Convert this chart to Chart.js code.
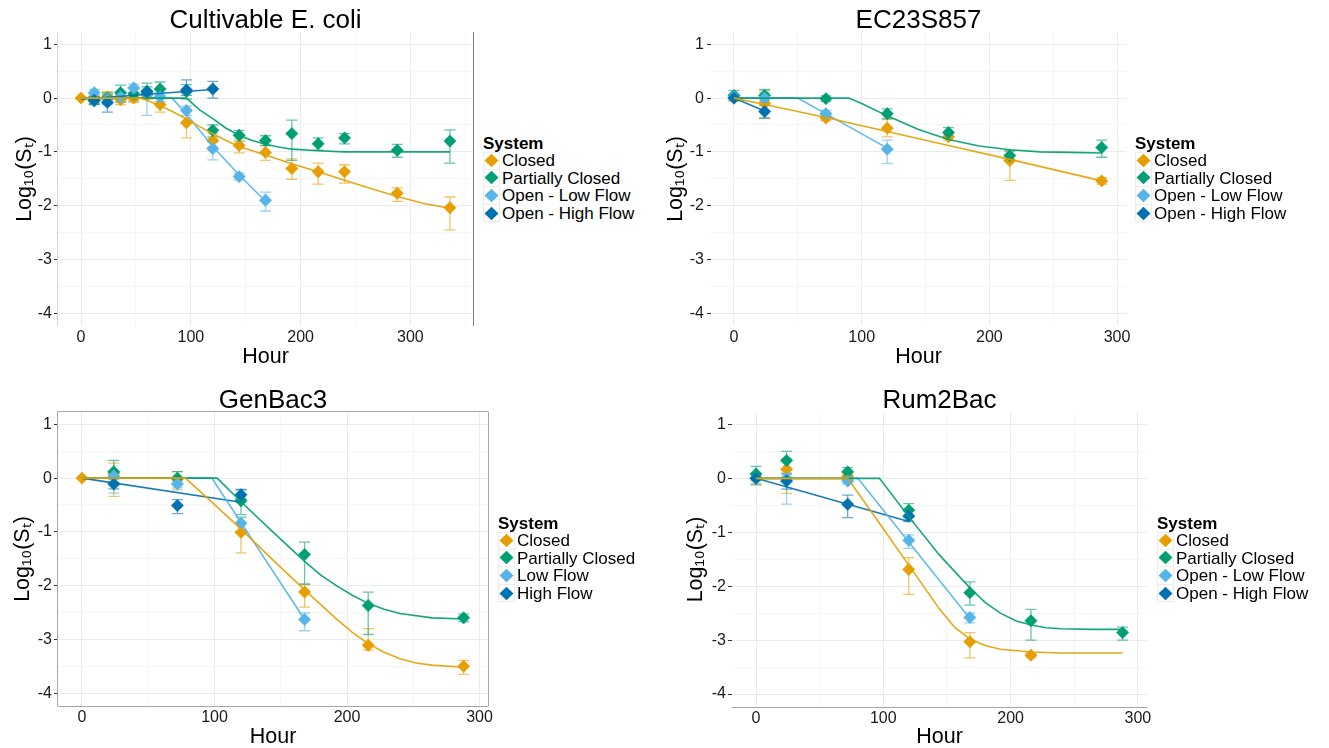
<!DOCTYPE html>
<html>
<head>
<meta charset="utf-8">
<script src="https://cdn.jsdelivr.net/npm/chart.js@4.4.1/dist/chart.umd.min.js"></script>
<style>
html,body{margin:0;padding:0;background:#fff;}
body{width:1329px;height:748px;position:relative;overflow:hidden;font-family:"Liberation Sans",Arial,Helvetica,sans-serif;}
canvas{position:absolute;}
.legend{position:absolute;color:#000;font-size:17px;}
.legend .ttl{font-weight:bold;height:16px;line-height:16px;white-space:nowrap;}
.legend .row{height:17.6px;line-height:17.6px;display:flex;align-items:center;white-space:nowrap;}
.legend .key{width:17px;height:17.6px;box-sizing:border-box;border:1px solid #ECECEC;margin-right:2px;display:flex;align-items:center;justify-content:center;}
</style>
</head>
<body>
<script>
// ---------------- data ----------------
const panelTitles = ['Cultivable E. coli', 'EC23S857', 'GenBac3', 'Rum2Bac'];
const seriesNames = ['Closed', 'Partially Closed', 'Open - Low Flow', 'Open - High Flow'];
const genbacSeriesNames = ['Closed', 'Partially Closed', 'Low Flow', 'High Flow'];
const seriesColors = ['#E69F00', '#009E73', '#56B4E9', '#0072B2'];
const legendTitle = 'System';
const xAxisTitle = 'Hour';
const yAxisTitle = 'Log\u2081\u2080(S\u209C)';
const yTickValues = [-4, -3, -2, -1, 0, 1];
const yMinorTickValues = [-3.5, -2.5, -1.5, -0.5, 0.5];
const xTickValues = [0, 100, 200, 300];
const xMinorTickValues = [50, 150, 250, 350];

// observed points: [hour, log10 survival, error-bar low, error-bar high]
const ecoliClosed = [[0,0,0,0],[12,-0.02,-0.1,0.06],[24,0.02,-0.08,0.12],[36,-0.03,-0.12,0.06],[48,0.0,-0.08,0.08],[60,0.05,-0.02,0.12],[72,-0.12,-0.26,0.02],[96,-0.46,-0.74,-0.23],[120,-0.79,-0.91,-0.66],[144,-0.88,-1.02,-0.76],[168,-1.01,-1.16,-0.89],[192,-1.31,-1.51,-1.13],[216,-1.37,-1.6,-1.21],[240,-1.37,-1.58,-1.24],[288,-1.77,-1.92,-1.67],[336,-2.04,-2.45,-1.84]];
const ecoliPartial = [[12,-0.05,-0.12,0.03],[24,0.0,-0.1,0.1],[36,0.1,-0.08,0.24],[48,0.08,-0.05,0.2],[60,0.13,0.0,0.28],[72,0.17,0.05,0.3],[96,0.12,-0.02,0.25],[120,-0.6,-0.72,-0.5],[144,-0.69,-0.8,-0.6],[168,-0.79,-0.88,-0.7],[192,-0.66,-1.16,-0.41],[216,-0.85,-0.97,-0.74],[240,-0.74,-0.85,-0.66],[288,-0.97,-1.1,-0.86],[336,-0.8,-1.21,-0.59]];
const ecoliLow = [[12,0.1,0.03,0.16],[24,-0.02,-0.12,0.08],[36,0.02,-0.08,0.12],[48,0.19,0.1,0.26],[60,0.08,-0.32,0.14],[72,0.02,-0.06,0.1],[96,-0.23,-0.32,-0.15],[120,-0.94,-1.15,-0.82],[144,-1.46,-1.52,-1.4],[168,-1.9,-2.1,-1.75]];
const ecoliHigh = [[12,-0.04,-0.11,0.03],[24,-0.08,-0.26,0.06],[60,0.11,0.01,0.21],[96,0.15,0.05,0.34],[120,0.17,0.0,0.31]];

const ec23Closed = [[0,0,-0.05,0.05],[24,-0.1,-0.38,0.14],[72,-0.37,-0.42,-0.31],[120,-0.56,-0.72,-0.4],[168,-0.72,-0.78,-0.66],[216,-1.16,-1.53,-0.98],[288,-1.54,-1.6,-1.48]];
const ec23Partial = [[0,0.05,-0.05,0.14],[24,0.05,-0.05,0.16],[72,-0.01,-0.06,0.04],[120,-0.29,-0.38,-0.2],[168,-0.64,-0.72,-0.55],[216,-1.07,-1.16,-0.98],[288,-0.92,-1.1,-0.78]];
const ec23Low = [[0,0.02,-0.03,0.07],[24,0.0,-0.1,0.1],[72,-0.29,-0.35,-0.23],[120,-0.95,-1.22,-0.78]];
const ec23High = [[0,0,0,0],[24,-0.25,-0.37,-0.13]];

const genbacClosed = [[0,0,0,0],[24,0.09,-0.34,0.28],[72,-0.02,-0.22,0.12],[120,-1.01,-1.39,-0.74],[168,-2.12,-2.4,-1.98],[216,-3.11,-3.2,-2.8],[288,-3.5,-3.65,-3.39]];
const genbacPartial = [[24,0.12,-0.08,0.33],[72,0.0,-0.1,0.12],[120,-0.42,-0.68,-0.22],[168,-1.42,-1.97,-1.19],[216,-2.37,-2.91,-2.12],[288,-2.6,-2.67,-2.53]];
const genbacLow = [[24,0.04,-0.28,0.12],[72,-0.11,-0.18,-0.05],[120,-0.84,-0.98,-0.72],[168,-2.63,-2.84,-2.51]];
const genbacHigh = [[24,-0.11,-0.2,-0.02],[72,-0.51,-0.66,-0.4],[120,-0.31,-0.38,-0.21]];

const rumClosed = [[0,0,-0.1,0.1],[24,0.17,-0.28,0.37],[72,0.04,-0.02,0.1],[120,-1.69,-2.15,-1.47],[168,-3.03,-3.33,-2.86],[216,-3.28,-3.32,-3.24]];
const rumPartial = [[0,0.08,-0.12,0.22],[24,0.33,0.15,0.5],[72,0.12,0.05,0.2],[120,-0.59,-0.72,-0.47],[168,-2.12,-2.35,-1.92],[216,-2.64,-3.0,-2.43],[288,-2.86,-3.0,-2.76]];
const rumLow = [[0,0,-0.05,0.05],[24,0.0,-0.48,0.1],[72,-0.05,-0.1,0.02],[120,-1.15,-1.3,-1.05],[168,-2.58,-2.68,-2.5]];
const rumHigh = [[0,0,0,0],[24,-0.05,-0.2,0.08],[72,-0.48,-0.73,-0.31],[120,-0.7,-0.8,-0.6]];

// fitted model curves: [hour, log10 survival]
const ecoliClosedFit = [[0,0],[54,0],[60,-0.04],[72,-0.14],[84,-0.26],[96,-0.39],[108,-0.53],[120,-0.66],[132,-0.79],[144,-0.9],[156,-0.98],[168,-1.06],[192,-1.22],[216,-1.37],[240,-1.53],[264,-1.68],[288,-1.83],[312,-1.96],[336,-2.05]];
const ecoliPartialFit = [[0,0],[96,0],[108,-0.22],[120,-0.38],[132,-0.56],[144,-0.69],[156,-0.79],[168,-0.86],[180,-0.91],[192,-0.95],[216,-0.98],[240,-1.0],[336,-1.0]];
const ecoliLowFit = [[0,0],[83,0],[96,-0.3],[120,-0.9],[144,-1.43],[168,-1.92]];
const ecoliHighFit = [[0,-0.02],[120,0.16]];

const ec23ClosedFit = [[0,0],[24,-0.12],[72,-0.36],[120,-0.62],[168,-0.88],[216,-1.14],[288,-1.54]];
const ec23PartialFit = [[0,0],[90,0],[100,-0.1],[120,-0.33],[144,-0.58],[168,-0.77],[192,-0.89],[216,-0.96],[240,-1.0],[264,-1.01],[288,-1.02]];
const ec23LowFit = [[0,0],[50,0],[120,-0.93]];
const ec23HighFit = [[0,0],[24,-0.24]];

const genbacClosedFit = [[0,0],[78,0],[96,-0.4],[120,-0.95],[144,-1.52],[168,-2.08],[192,-2.62],[204,-2.87],[216,-3.08],[228,-3.24],[240,-3.36],[252,-3.44],[264,-3.48],[288,-3.52]];
const genbacPartialFit = [[0,0],[102,0],[120,-0.44],[144,-1.0],[168,-1.55],[180,-1.8],[192,-2.0],[204,-2.18],[216,-2.33],[228,-2.44],[240,-2.52],[264,-2.6],[288,-2.62]];
const genbacLowFit = [[0,0],[98,0],[168,-2.63]];
const genbacHighFit = [[0,0],[120,-0.45]];

const rumClosedFit = [[0,0],[72,0],[96,-0.8],[120,-1.61],[144,-2.42],[156,-2.76],[168,-2.98],[180,-3.1],[192,-3.17],[216,-3.22],[240,-3.24],[288,-3.24]];
const rumPartialFit = [[0,0],[97,0],[120,-0.71],[144,-1.42],[168,-2.03],[180,-2.3],[192,-2.5],[204,-2.64],[216,-2.72],[228,-2.77],[240,-2.79],[264,-2.8],[288,-2.8]];
const rumLowFit = [[0,0],[80,0],[168,-2.6]];
const rumHighFit = [[0,0],[120,-0.8]];

// ---------------- layout / style ----------------
const FONT = '"Liberation Sans", Arial, Helvetica, sans-serif';
const panels = [
  {points:[ecoliClosed,ecoliPartial,ecoliLow,ecoliHigh], fits:[ecoliClosedFit,ecoliPartialFit,ecoliLowFit,ecoliHighFit], names:seriesNames,
   box:{left:0,top:0,w:480,h:370}, yWidth:58, padRight:7, titlePadTop:7.5, titlePadBottom:-1.5, xHeight:44, xMin:-21, xMax:357, yTitlePad:14.5, xTitlePad:2.5, yTickPad:2,
   frame:[['left','#D4D4D4'],['right','#7F7F7F']], legend:{left:483,top:136}},
  {points:[ec23Closed,ec23Partial,ec23Low,ec23High], fits:[ec23ClosedFit,ec23PartialFit,ec23LowFit,ec23HighFit], names:seriesNames,
   box:{left:660,top:0,w:480,h:370}, yWidth:51, padRight:14, titlePadTop:7.5, titlePadBottom:-1.5, xHeight:44, xMin:-18, xMax:307, yTitlePad:5.5, xTitlePad:2.5, yTickPad:3,
   frame:[], legend:{left:1135,top:136}},
  {points:[genbacClosed,genbacPartial,genbacLow,genbacHigh], fits:[genbacClosedFit,genbacPartialFit,genbacLowFit,genbacHighFit], names:genbacSeriesNames,
   box:{left:0,top:370,w:500,h:378}, yWidth:58, padRight:12, titlePadTop:17.5, titlePadBottom:-1.5, xHeight:42, xMin:-18.1, xMax:306.4, yTitlePad:12.5, xTitlePad:0.5, yTickPad:2,
   frame:[['left','#A6A6A6'],['right','#A6A6A6'],['top','#A6A6A6'],['bottom','#A6A6A6']], legend:{left:498,top:516}},
  {points:[rumClosed,rumPartial,rumLow,rumHigh], fits:[rumClosedFit,rumPartialFit,rumLowFit,rumHighFit], names:seriesNames,
   box:{left:660,top:370,w:500,h:378}, yWidth:72, padRight:13, titlePadTop:17.5, titlePadBottom:-1.5, xHeight:41, xMin:-18.9, xMax:307.2, yTitlePad:25.5, xTitlePad:0.5, yTickPad:2,
   frame:[['bottom','#A6A6A6']], legend:{left:1157,top:516}}
];

function rgba(hex, a) {
  const n = parseInt(hex.slice(1), 16);
  return 'rgba(' + ((n >> 16) & 255) + ',' + ((n >> 8) & 255) + ',' + (n & 255) + ',' + a + ')';
}

const frames = {};

const errorBarPlugin = {
  id: 'errorBars',
  beforeDatasetsDraw(chart) {
    const ctx = chart.ctx, x = chart.scales.x, y = chart.scales.y, a = chart.chartArea;
    ctx.save();
    ctx.beginPath(); ctx.rect(a.left, a.top, a.right - a.left, a.bottom - a.top); ctx.clip();
    chart.data.datasets.forEach(ds => {
      if (!ds.errLow) return;
      ctx.strokeStyle = ds.errColor;
      ctx.lineWidth = 1.3;
      ds.data.forEach((p, j) => {
        const lo = ds.errLow[j], hi = ds.errHigh[j];
        if (hi - lo < 0.02) return;
        const px = x.getPixelForValue(p.x);
        const y1 = y.getPixelForValue(lo), y2 = y.getPixelForValue(hi);
        ctx.beginPath();
        ctx.moveTo(px, y1); ctx.lineTo(px, y2);
        ctx.moveTo(px - 5.5, y1); ctx.lineTo(px + 5.5, y1);
        ctx.moveTo(px - 5.5, y2); ctx.lineTo(px + 5.5, y2);
        ctx.stroke();
      });
    });
    ctx.restore();
  }
};

const framePlugin = {
  id: 'panelFrame',
  afterDraw(chart) {
    const sides = frames[chart.canvas.id] || [];
    const ctx = chart.ctx, a = chart.chartArea;
    ctx.save();
    ctx.lineWidth = 1;
    sides.forEach(([side, color]) => {
      ctx.strokeStyle = color;
      ctx.beginPath();
      if (side === 'left') { ctx.moveTo(a.left - 0.5, a.top); ctx.lineTo(a.left - 0.5, a.bottom); }
      if (side === 'right') { ctx.moveTo(a.right + 0.5, a.top); ctx.lineTo(a.right + 0.5, a.bottom); }
      if (side === 'top') { ctx.moveTo(a.left - 0.5, a.top - 0.5); ctx.lineTo(a.right + 0.5, a.top - 0.5); }
      if (side === 'bottom') { ctx.moveTo(a.left - 0.5, a.bottom + 0.5); ctx.lineTo(a.right + 0.5, a.bottom + 0.5); }
      ctx.stroke();
    });
    ctx.restore();
  }
};

function buildLegend(P) {
  const d = document.createElement('div');
  d.className = 'legend';
  d.style.left = P.legend.left + 'px';
  d.style.top = P.legend.top + 'px';
  const t = document.createElement('div');
  t.className = 'ttl'; t.textContent = legendTitle;
  d.appendChild(t);
  P.names.forEach((name, i) => {
    const r = document.createElement('div'); r.className = 'row';
    const k = document.createElement('div'); k.className = 'key';
    if (i > 0) k.style.borderTop = 'none';
    k.innerHTML = '<svg width="15" height="15"><polygon points="7.5,0.8 14.5,7.5 7.5,14.2 0.5,7.5" fill="' + seriesColors[i] + '"/></svg>';
    const s = document.createElement('span'); s.textContent = name;
    r.appendChild(k); r.appendChild(s);
    d.appendChild(r);
  });
  document.body.appendChild(d);
}

panels.forEach((P, pi) => {
  const c = document.createElement('canvas');
  c.id = 'panel' + pi;
  c.width = P.box.w; c.height = P.box.h;
  c.style.left = P.box.left + 'px'; c.style.top = P.box.top + 'px';
  c.style.width = P.box.w + 'px'; c.style.height = P.box.h + 'px';
  document.body.appendChild(c);
  frames[c.id] = P.frame;

  const datasets = [];
  P.fits.forEach((f, i) => datasets.push({
    label: P.names[i] + ' model', data: f.map(r => ({x: r[0], y: r[1]})),
    showLine: true, borderColor: rgba(seriesColors[i], 0.92), backgroundColor: seriesColors[i],
    borderWidth: 1.6, pointRadius: 0, pointHoverRadius: 0, fill: false, tension: 0, order: 0
  }));
  P.points.forEach((p, i) => datasets.push({
    label: P.names[i], data: p.map(r => ({x: r[0], y: r[1]})),
    errLow: p.map(r => r[2]), errHigh: p.map(r => r[3]), errColor: rgba(seriesColors[i], 0.6),
    showLine: false, pointStyle: 'rectRot', pointRadius: 6.2, pointHoverRadius: 6.2,
    backgroundColor: seriesColors[i], borderColor: seriesColors[i], pointBorderWidth: 0.5, order: 4 - i
  }));

  const yAll = yTickValues.concat(yMinorTickValues).sort((a, b) => a - b);
  const xAll = xTickValues.concat(xMinorTickValues).sort((a, b) => a - b).filter(v => v >= P.xMin && v <= P.xMax);

  new Chart(c, {
    type: 'scatter',
    data: {datasets},
    options: {
      responsive: false, animation: false, devicePixelRatio: 1, events: [],
      layout: {padding: {left: 0, right: P.padRight, top: 0, bottom: 0}},
      plugins: {
        legend: {display: false},
        tooltip: {enabled: false},
        title: {display: true, text: panelTitles[pi], color: '#000', fullSize: false,
          font: {size: 26, family: FONT, weight: 'normal', lineHeight: 1},
          padding: {top: P.titlePadTop, bottom: P.titlePadBottom}}
      },
      scales: {
        x: {
          type: 'linear', min: P.xMin, max: P.xMax,
          afterFit: s => { s.height = P.xHeight; },
          afterBuildTicks: s => { s.ticks = xAll.map(v => ({value: v})); },
          border: {display: false},
          grid: {color: g => (g.tick && xTickValues.includes(g.tick.value)) ? '#EBEBEB' : '#F6F6F6', lineWidth: 1, drawTicks: false},
          ticks: {autoSkip: false, maxRotation: 0, padding: 2, color: '#1A1A1A', font: {size: 16, family: FONT},
            callback: v => xTickValues.includes(v) ? String(v) : ''},
          title: {display: true, text: xAxisTitle, color: '#000', font: {size: 21.5, family: FONT, lineHeight: 1},
            padding: {top: 0, bottom: P.xTitlePad}}
        },
        y: {
          type: 'linear', min: -4.24, max: 1.23,
          afterFit: s => { s.width = P.yWidth; },
          afterBuildTicks: s => { s.ticks = yAll.map(v => ({value: v})); },
          border: {display: false},
          grid: {color: g => (g.tick && yTickValues.includes(g.tick.value)) ? '#EBEBEB' : '#F6F6F6', lineWidth: 1,
            drawTicks: true, tickLength: 4, tickWidth: 1,
            tickColor: g => (g.tick && yTickValues.includes(g.tick.value)) ? '#333333' : 'rgba(0,0,0,0)'},
          ticks: {autoSkip: false, padding: P.yTickPad, color: '#1A1A1A', font: {size: 16, family: FONT},
            callback: v => yTickValues.includes(v) ? String(v) : ''},
          title: {display: true, text: yAxisTitle, color: '#000', font: {size: 21.5, family: FONT, lineHeight: 1},
            padding: {top: P.yTitlePad, bottom: 0}}
        }
      }
    },
    plugins: [errorBarPlugin, framePlugin]
  });
  buildLegend(P);
});
</script>
</body>
</html>
